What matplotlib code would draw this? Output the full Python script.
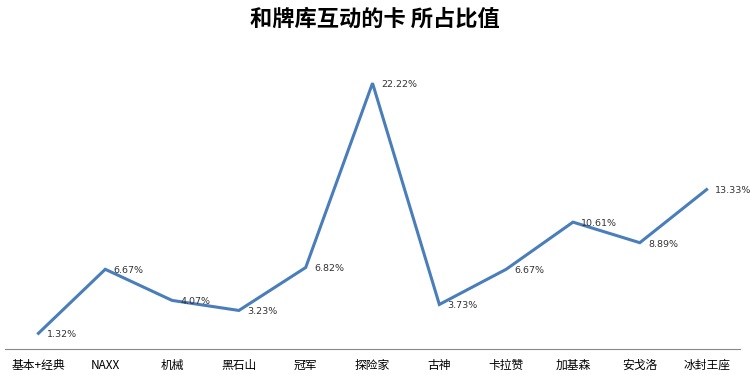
import matplotlib
matplotlib.use("Agg")
import matplotlib.pyplot as plt

plt.rcParams['font.family'] = ['Noto Sans CJK SC', 'DejaVu Sans']

categories = ["基本+经典", "NAXX", "机械", "黑石山", "冠军", "探险家",
              "古神", "卡拉赞", "加基森", "安戈洛", "冰封王座"]
values = [1.32, 6.67, 4.07, 3.23, 6.82, 22.22, 3.73, 6.67, 10.61, 8.89, 13.33]
title = "和牌库互动的卡 所占比值"

fig = plt.figure(figsize=(7.5, 3.75), dpi=100)
ax = fig.add_axes([0.0067, 0.069, 0.98, 0.798])

x = range(len(categories))
ax.plot(x, values, color="#4a7ebb", linewidth=2.2, solid_joinstyle="miter")
for xi, v in zip(x, values):
    ax.annotate(f"{v:.2f}%", (xi, v), xytext=(6, -1), textcoords="offset points",
                ha="left", va="center", fontsize=6.8, color="#333333",
                family="DejaVu Sans")

ax.set_xlim(-0.5, len(categories) - 0.5)
ax.set_ylim(0, 25)
ax.set_xticks(list(x))
ax.set_xticklabels(categories, fontsize=8.5)
ax.tick_params(axis="x", length=0, pad=7)
ax.set_yticks([])
for side in ("top", "right", "left"):
    ax.spines[side].set_visible(False)
ax.spines["bottom"].set_color("#888888")
ax.spines["bottom"].set_linewidth(0.8)

fig.suptitle(title, y=0.98, fontsize=16, fontweight="bold")

fig.savefig("out.png", dpi=100)
